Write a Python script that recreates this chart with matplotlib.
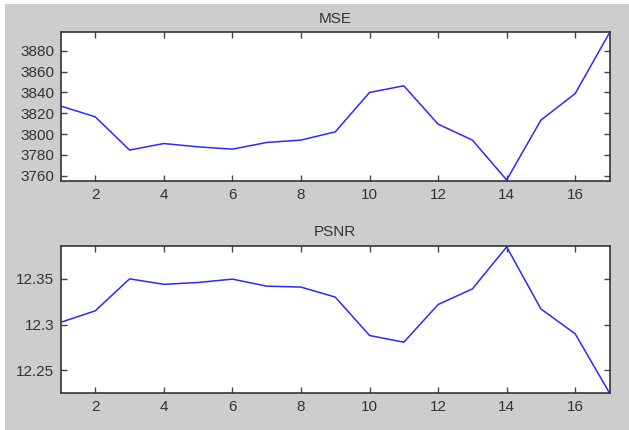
import matplotlib
matplotlib.use("Agg")
import matplotlib.pyplot as plt
from matplotlib.patches import Rectangle

plt.rcParams['font.family'] = ['Liberation Sans', 'DejaVu Sans']

x = list(range(1, 18))
mse = [3826.9, 3816.6, 3784.7, 3791.0, 3787.8, 3785.6, 3792.0, 3794.3, 3802.2,
       3840.0, 3846.4, 3809.6, 3794.3, 3756.0, 3813.5, 3839.0, 3897.3]
psnr = [12.3025, 12.315, 12.350, 12.344, 12.346, 12.3497, 12.342, 12.341, 12.330,
        12.288, 12.2806, 12.3219, 12.339, 12.385, 12.317, 12.2898, 12.225]
xticks = [2, 4, 6, 8, 10, 12, 14, 16]
mse_ticks = [3760, 3780, 3800, 3820, 3840, 3860, 3880]
psnr_ticks = [12.25, 12.3, 12.35]
psnr_labels = ['12.25', '12.3', '12.35']

fig = plt.figure(figsize=(6.29, 4.30), dpi=100, facecolor='white')
fig.patches.append(Rectangle((5/629, 0), 1, 1 - 4/430, transform=fig.transFigure,
                             facecolor='#cdcdcd', edgecolor='none', zorder=-10))

txt = '#333333'

def style(ax):
    ax.set_facecolor('white')
    ax.tick_params(direction='in', top=True, right=True, length=4, width=1,
                   labelsize=11, colors='#444444', labelcolor=txt, pad=5)
    for s in ax.spines.values():
        s.set_color('#333333')
        s.set_linewidth(1.2)
    ax.set_xlim(1, 17)
    ax.set_xticks(xticks)

ax1 = fig.add_axes([0.097, 0.579, 0.872, 0.346])
ax1.plot(x, mse, color='#2a2aff', lw=1.1)
style(ax1)
ax1.set_ylim(min(mse) - 1, max(mse) + 0.5)
ax1.set_yticks(mse_ticks)
ax1.set_title('MSE', fontsize=11, color=txt, pad=7)

ax2 = fig.add_axes([0.097, 0.086, 0.872, 0.342])
ax2.plot(x, psnr, color='#2a2aff', lw=1.1)
style(ax2)
ax2.set_ylim(min(psnr), max(psnr) + 0.001)
ax2.set_yticks(psnr_ticks)
ax2.set_yticklabels(psnr_labels)
ax2.set_title('PSNR', fontsize=11, color=txt, pad=7)

fig.savefig('out.png', dpi=100, facecolor=fig.get_facecolor())
